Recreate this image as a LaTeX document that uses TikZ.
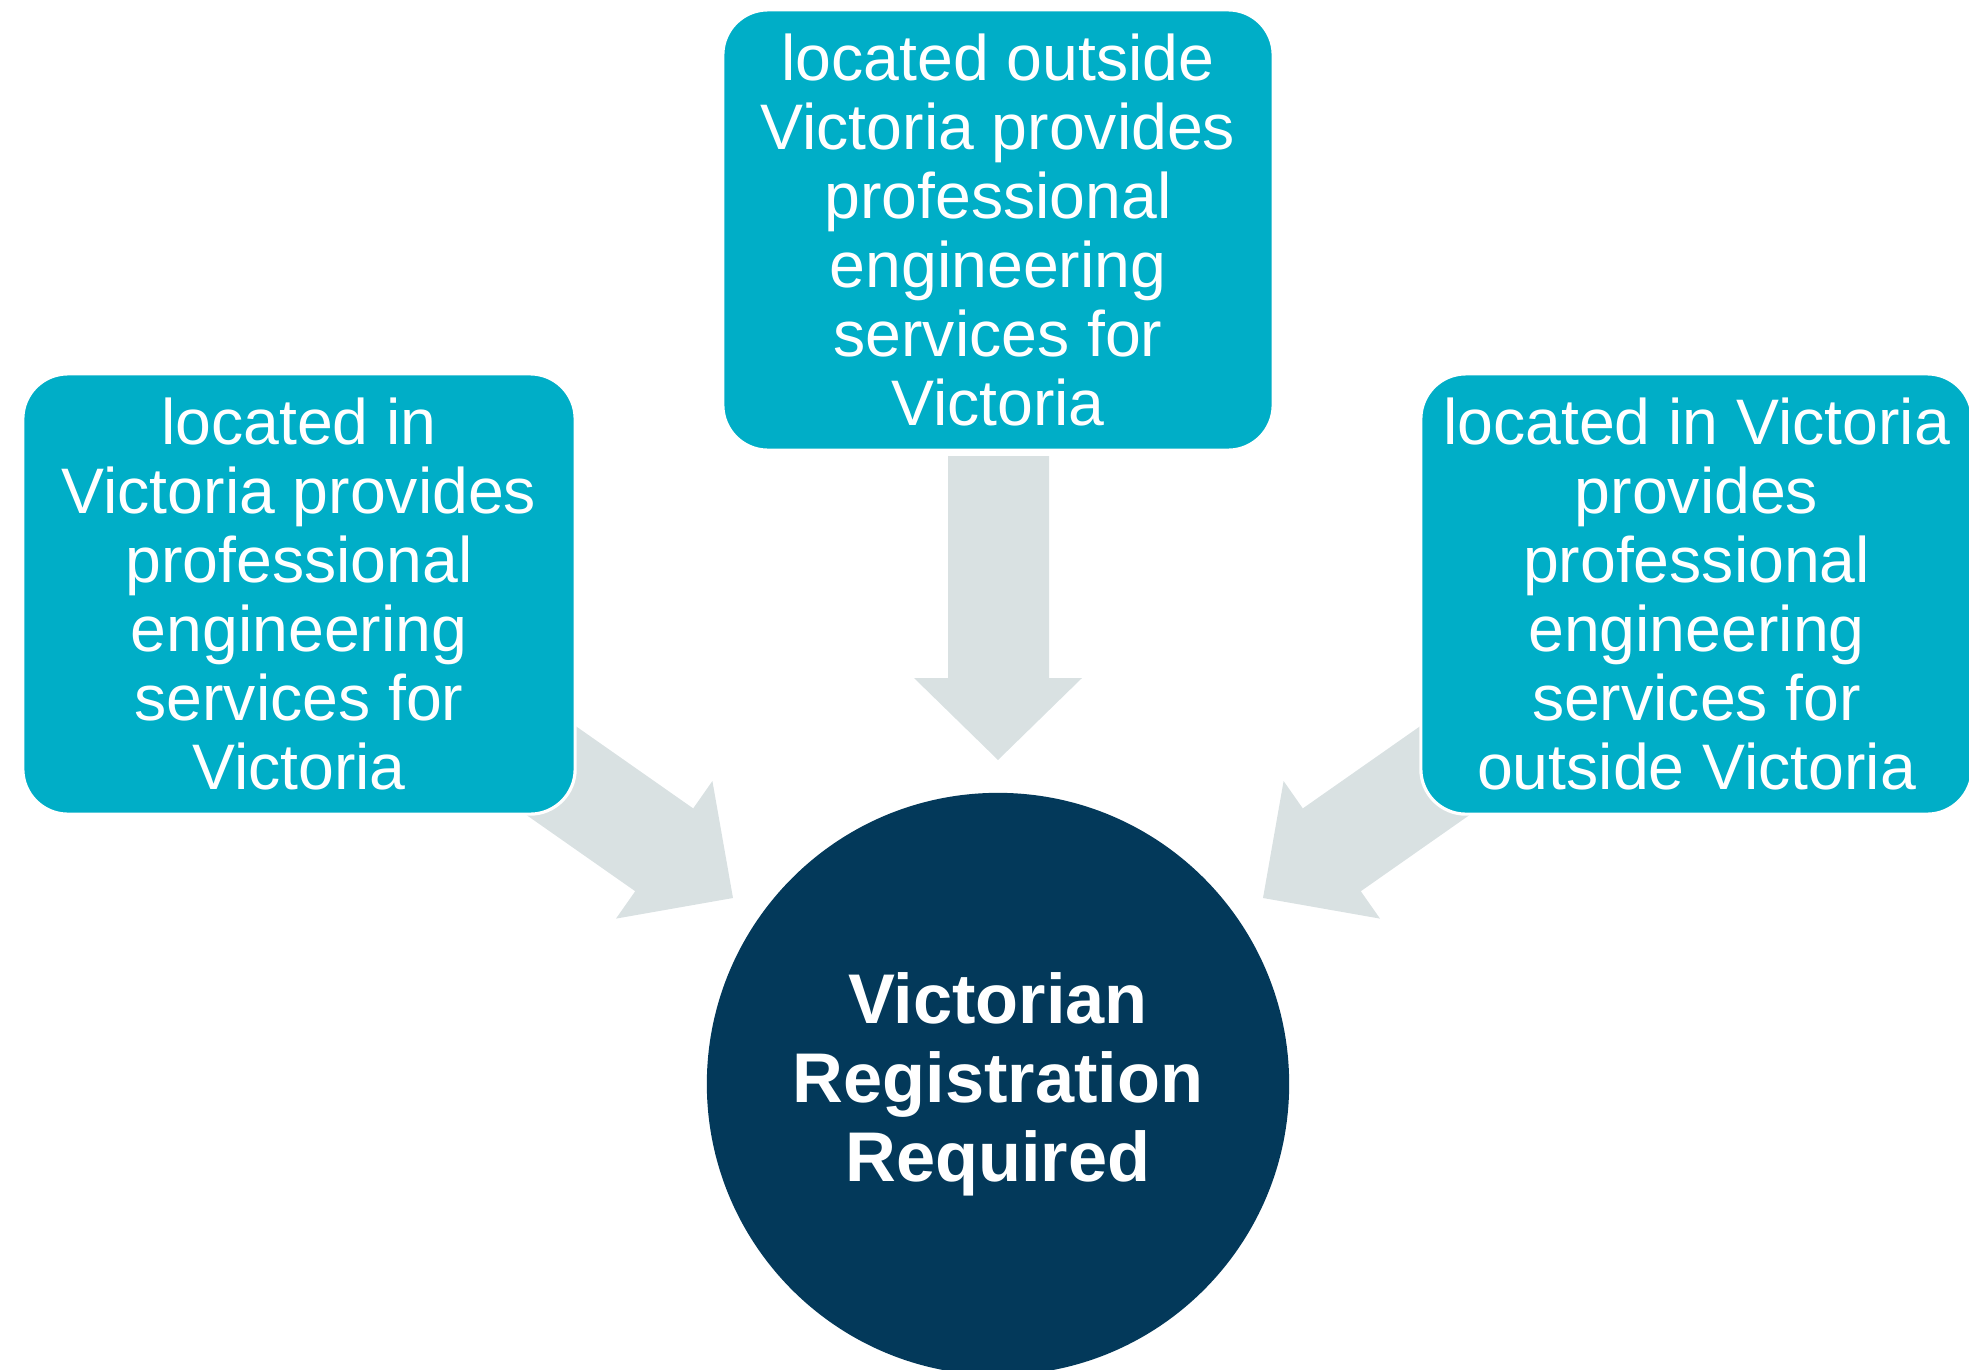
\documentclass[tikz,border=0pt]{standalone}
\usepackage{fontspec}
\setmainfont{Liberation Sans}
\definecolor{boxteal}{HTML}{00AEC7}
\definecolor{navy}{HTML}{03395A}
\definecolor{arrowgray}{HTML}{D9E1E2}
\tikzset{
  infobox/.style={rectangle, rounded corners=0.45cm, fill=boxteal, draw=white, line width=0.9pt,
    minimum height=4.4cm, text=white, align=center,
    font=\fontsize{18.3}{19.6}\selectfont},
  goal/.style={circle, fill=navy, minimum size=5.82cm, text=white, align=center,
    font=\fontsize{20}{22.5}\selectfont\bfseries},
  blockarrow/.style={fill=arrowgray, draw=none}
}
\begin{document}
\begin{tikzpicture}[x=0.01cm, y=-0.01cm]
\useasboundingbox (0,0) rectangle (1969,1369);
% block arrows (drawn first, boxes cover their tails)
\coordinate (tipL) at (733,898);
\coordinate (tipM) at (998,760);
\coordinate (tipR) at (1263,898);
\fill[blockarrow] (488.4,664.9) -- (693.2,808.4) -- (712.4,781) -- (tipL) -- (616,918.6) -- (635.2,891.2) -- (430.4,747.7) -- cycle;
\fill[blockarrow] (1507.6,664.9) -- (1302.8,808.4) -- (1283.6,781) -- (tipR) -- (1380,918.6) -- (1360.8,891.2) -- (1565.6,747.7) -- cycle;
\fill[blockarrow] (948,456) -- (1049,456) -- (1049,678) -- (1082,678) -- (tipM) -- (914,678) -- (948,678) -- cycle;
% boxes
\node[infobox, minimum width=5.52cm] (left) at (299,594) {located in\\Victoria provides\\professional\\engineering\\services for\\Victoria};
\node[infobox, minimum width=5.5cm] (mid) at (998,230) {located outside\\Victoria provides\\professional\\engineering\\services for\\Victoria};
\node[infobox, minimum width=5.51cm] (right) at (1696.5,594) {located in Victoria\\provides\\professional\\engineering\\services for\\outside Victoria};
% goal
\node[goal] (reg) at (998,1084) {Victorian\\Registration\\Required};
\end{tikzpicture}
\end{document}
